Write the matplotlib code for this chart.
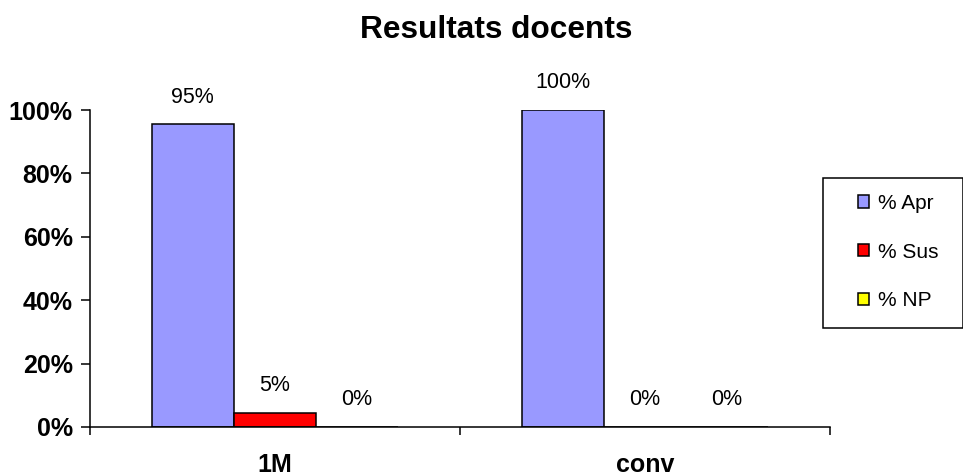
import matplotlib
matplotlib.use("Agg")
import matplotlib.pyplot as plt
from matplotlib.patches import Rectangle
import numpy as np

plt.rcParams['font.family'] = ['Liberation Sans', 'DejaVu Sans']

# data
categories = ["1M", "conv"]
series = ["% Apr", "% Sus", "% NP"]
values = [
    [95.45, 100.0],   # % Apr
    [4.55, 0.0],      # % Sus
    [0.0, 0.0],       # % NP
]
labels = [
    ["95%", "100%"],
    ["5%", "0%"],
    ["0%", "0%"],
]
colors = ["#9999FF", "#FF0000", "#FFFF00"]

fig = plt.figure(figsize=(9.63, 4.74), dpi=100)
ax = fig.add_axes([90 / 963, 47 / 474, 740 / 963, 317 / 474])

x = np.arange(len(categories))
w = 0.222
handles = []
for i, (name, vals) in enumerate(zip(series, values)):
    pos = x + (i - 1) * w
    vals = np.array(vals) / 100.0
    bars = ax.bar(pos, vals, width=w, color=colors[i], edgecolor="black",
                  linewidth=1.1, label=name)
    handles.append(bars)
    for p, v, lab in zip(pos, vals, labels[i]):
        ax.annotate(lab, (p, v), xytext=(0, 19.5), textcoords="offset points",
                    ha="center", va="center", fontsize=15.5)

ax.set_xlim(-0.5, 1.5)
ax.set_ylim(0, 1)
ax.set_yticks(np.arange(0, 1.01, 0.2))
ax.set_yticklabels(["0%", "20%", "40%", "60%", "80%", "100%"],
                   fontsize=18, fontweight="bold")
ax.set_xticks(x)
ax.set_xticklabels(categories, fontsize=18, fontweight="bold")
ax.set_xticks([-0.5, 0.5, 1.5], minor=True)
ax.tick_params(axis="x", which="major", length=0, pad=19)
ax.tick_params(axis="x", which="minor", length=6, width=1.1, direction="out")
ax.tick_params(axis="y", length=6.5, width=1.1, direction="out", pad=6)

for s in ["top", "right"]:
    ax.spines[s].set_visible(False)
for s in ["left", "bottom"]:
    ax.spines[s].set_linewidth(1.1)

fig.text(496 / 963, 1 - 30 / 474, "Resultats docents", ha="center",
         va="center", fontsize=22.8, fontweight="bold")

# legend box
fig.patches.append(Rectangle((822.5 / 963, 1 - 327.5 / 474), 140 / 963,
                             150 / 474, transform=fig.transFigure,
                             facecolor="white", edgecolor="black",
                             linewidth=1.1))
fig.legend(handles=handles, loc="upper left",
           bbox_to_anchor=(858 / 963, 1 - 194 / 474), frameon=False,
           fontsize=15, handlelength=0.53, handleheight=0.53,
           handletextpad=0.45, labelspacing=1.42, borderpad=0,
           borderaxespad=0)

fig.savefig("out.png", dpi=100)
